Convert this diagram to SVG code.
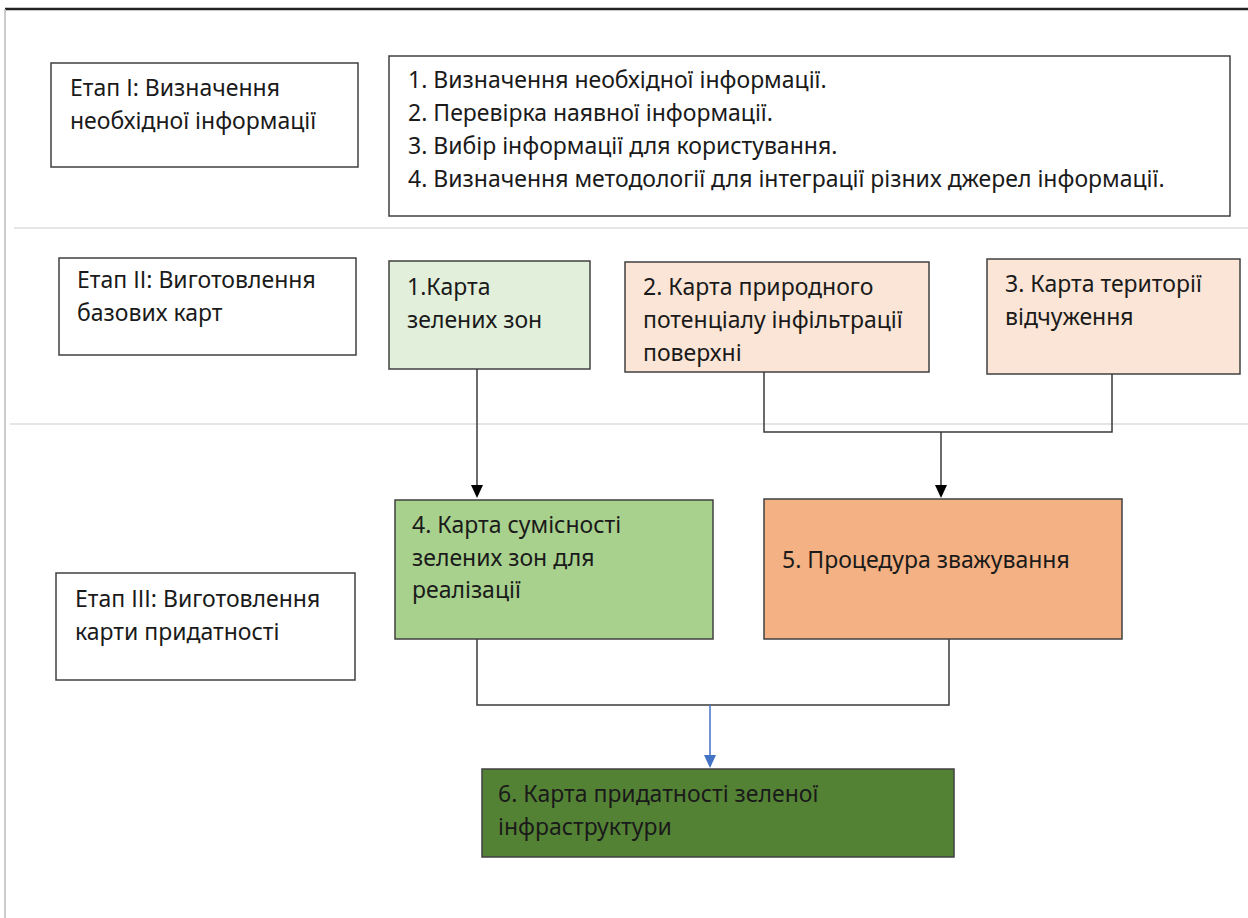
<svg xmlns="http://www.w3.org/2000/svg" width="1248" height="918" viewBox="0 0 1248 918">
<style>
text{font-family:"Noto Sans","Open Sans","Liberation Sans",sans-serif;font-size:23px;fill:#1a1a1a}
.box{stroke:#404040;stroke-width:1.5}
.sep{stroke:#dcdcdc;stroke-width:1.5}
.con{fill:none;stroke:#3a3a3a;stroke-width:1.5}
.blue{fill:none;stroke:#4472c4;stroke-width:1.5}
</style>
<rect width="1248" height="918" fill="#fff"/>
<g id="frame">
<line x1="5" y1="9" x2="1248" y2="9" stroke="#222" stroke-width="2.5"/>
<line x1="5" y1="9" x2="5" y2="918" stroke="#bbb" stroke-width="1.5"/>
<line class="sep" x1="14" y1="228" x2="1248" y2="228"/>
<line class="sep" x1="10" y1="424" x2="1248" y2="424"/>
</g>
<g id="connectors">
<path class="con" d="M477,369 V488"/>
<path class="con" d="M764,372 V432 H1112 V374"/>
<path class="con" d="M941,432 V487"/>
<path class="con" d="M477,639 V705 H949 V639"/>
<path class="blue" d="M710,705 V757"/>
<path d="M471,485 L483,485 L477,498 Z" fill="#000"/>
<path d="M935,485 L947,485 L941,498 Z" fill="#000"/>
<path d="M704,755 L716,755 L710,768 Z" fill="#4472c4"/>
</g>
<g id="stage1">
<rect class="box" x="51" y="63" width="307" height="104" fill="#fff"/>
<text x="70" y="96">Етап І: Визначення</text>
<text x="70" y="129">необхідної інформації</text>
</g>
<g id="list">
<rect class="box" x="389" y="56" width="841" height="160" fill="#fff"/>
<text x="408" y="88">1. Визначення необхідної інформації.</text>
<text x="408" y="121">2. Перевірка наявної інформації.</text>
<text x="408" y="154">3. Вибір інформації для користування.</text>
<text x="408" y="187">4. Визначення методології для інтеграції різних джерел інформації.</text>
</g>
<g id="stage2">
<rect class="box" x="59" y="258" width="297" height="97" fill="#fff"/>
<text x="77" y="288">Етап ІІ: Виготовлення</text>
<text x="77" y="321">базових карт</text>
</g>
<g id="n1">
<rect class="box" x="389" y="261" width="201" height="108" fill="#e2efda"/>
<text x="407" y="295">1.Карта</text>
<text x="407" y="328">зелених зон</text>
</g>
<g id="n2">
<rect class="box" x="625" y="262" width="304" height="110" fill="#fbe5d6"/>
<text x="643" y="295">2. Карта природного</text>
<text x="643" y="328">потенціалу інфільтрації</text>
<text x="643" y="361">поверхні</text>
</g>
<g id="n3">
<rect class="box" x="987" y="259" width="253" height="115" fill="#fbe5d6"/>
<text x="1005" y="292">3. Карта території</text>
<text x="1005" y="325">відчуження</text>
</g>
<g id="stage3">
<rect class="box" x="56" y="573" width="299" height="107" fill="#fff"/>
<text x="75" y="607">Етап ІІІ: Виготовлення</text>
<text x="75" y="640">карти придатності</text>
</g>
<g id="n4">
<rect class="box" x="395" y="500" width="318" height="139" fill="#a9d18e"/>
<text x="412" y="533">4. Карта сумісності</text>
<text x="412" y="566">зелених зон для</text>
<text x="412" y="598">реалізації</text>
</g>
<g id="n5">
<rect class="box" x="764" y="499" width="358" height="140" fill="#f4b183"/>
<text x="782" y="568">5. Процедура зважування</text>
</g>
<g id="n6">
<rect class="box" x="482" y="769" width="472" height="88" fill="#548235"/>
<text x="498" y="802">6. Карта придатності зеленої</text>
<text x="498" y="835">інфраструктури</text>
</g>
</svg>
